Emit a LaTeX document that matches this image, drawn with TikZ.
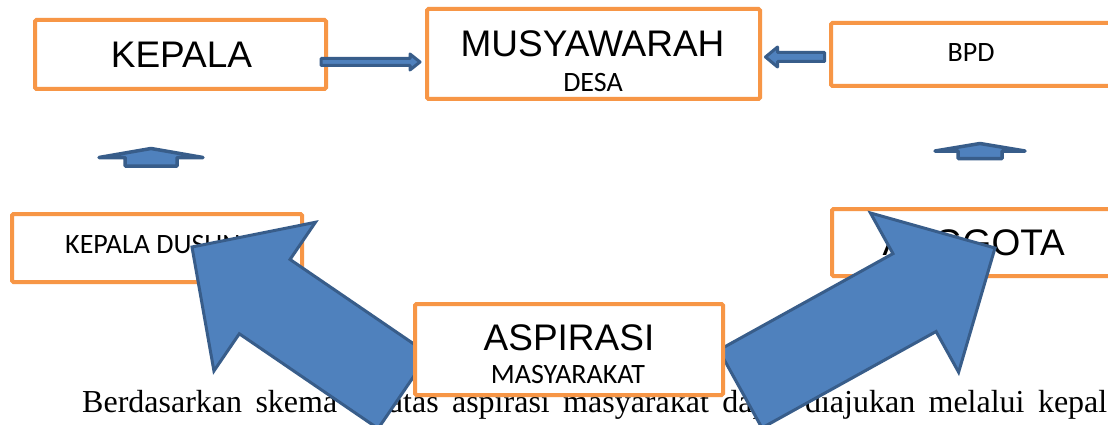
\documentclass[tikz,border=0pt]{standalone}
\usepackage{fontspec}
\setmainfont{Liberation Sans}
\newfontfamily\calfont{Carlito}
\newfontfamily\timesfont{Liberation Serif}
\usetikzlibrary{calc}
\definecolor{boxorange}{HTML}{F79646}
\definecolor{arrowfill}{HTML}{4F81BD}
\definecolor{arrowdraw}{HTML}{385D8A}
\tikzset{
  boxnode/.style={draw=boxorange, line width=4pt, fill=white, rounded corners=1.5pt, inner sep=0pt, rectangle},
  bigtxt/.style={font=\fontsize{37}{40}\selectfont, inner sep=0pt, anchor=base},
  smalltxt/.style={font=\calfont\fontsize{28}{32}\selectfont, inner sep=0pt, anchor=base},
  bodytxt/.style={font=\timesfont\fontsize{32}{36}\selectfont, inner sep=0pt, anchor=base west},
  smallarrow/.style={draw=arrowdraw, fill=arrowfill, line width=3pt, line join=round},
  uparrow/.style={draw=arrowdraw, fill=arrowfill, line width=3.5pt, line join=round},
  bigarrow/.style={draw=arrowdraw, fill=arrowfill, line width=3pt, line join=miter},
}
% #1 style, #2 tail, #3 tip, #4 shaft half width, #5 head half width, #6 head length
\newcommand{\blockarr}[6]{%
  \coordinate (tmpH) at ($(#3)!#6!(#2)$);
  \draw[#1] ($(#2)!#4!90:(#3)$) -- ($(tmpH)!#4!-90:(#2)$) -- ($(tmpH)!#5!-90:(#2)$)
    -- (#3) -- ($(tmpH)!#5!90:(#2)$) -- ($(tmpH)!#4!90:(#2)$) -- ($(#2)!#4!-90:(#3)$) -- cycle;
}
\begin{document}
\begin{tikzpicture}[x=1pt,y=-1pt]
\useasboundingbox (0,0) rectangle (1108,425);
\clip (0,0) rectangle (1108,425);
\fill[white] (0,0) rectangle (1108,425);

% body text line
\node[bodytxt] (body) at (82,412) {\makebox[1025pt][s]{Berdasarkan skema di atas aspirasi masyarakat dapat diajukan melalui kepal}};

% boxes
\node[boxnode, minimum width=291pt, minimum height=69pt] (kepala) at (180.5,54.5) {};
\node[bigtxt] (kepalaT) at (181.5,68) {KEPALA};

\node[boxnode, minimum width=333pt, minimum height=90pt] (musy) at (593.5,54) {};
\node[bigtxt] (musyT) at (592.5,57) {MUSYAWARAH};
\node[smalltxt] (desaT) at (593,92) {DESA};

\node[boxnode, minimum width=280pt, minimum height=63pt] (bpd) at (971,54.5) {};
\node[smalltxt] (bpdT) at (971,62) {BPD};

\node[boxnode, minimum width=290pt, minimum height=68pt] (dusun) at (157,248) {};
\node[smalltxt, anchor=base west] (dusunT) at (65,253) {KEPALA DUSUN};

\node[boxnode, minimum width=281pt, minimum height=67pt] (anggota) at (972.5,242.5) {};
\node[bigtxt, anchor=base east] (anggotaT) at (1065,255) {ANGGOTA};

% small connectors
\coordinate (kmA) at ([xshift=-7pt,yshift=-7.5pt]kepala.east);
\coordinate (kmB) at ([xshift=-5pt,yshift=-8pt]musy.west);
\blockarr{smallarrow}{kmA}{kmB}{3.5pt}{8pt}{10pt}

\coordinate (bmA) at ([xshift=-4.5pt,yshift=-2.5pt]bpd.west);
\coordinate (bmB) at ([xshift=3.5pt,yshift=-3pt]musy.east);
\blockarr{smallarrow}{bmA}{bmB}{4.5pt}{10pt}{12pt}

% small up arrows
\coordinate (upLA) at (151,166);
\coordinate (upLB) at (151,148.5);
\blockarr{uparrow}{upLA}{upLB}{26pt}{52pt}{9pt}

\coordinate (upRA) at (980,158.5);
\coordinate (upRB) at (980,143.5);
\blockarr{uparrow}{upRA}{upRB}{22pt}{45pt}{7.5pt}

% big arrows
\coordinate (bigLA) at (403.5,391.4);
\coordinate (bigLB) at (192,247);
\blockarr{bigarrow}{bigLA}{bigLB}{45pt}{90pt}{88pt}

\coordinate (bigRA) at (740.4,389);
\coordinate (bigRB) at (995,248);
\blockarr{bigarrow}{bigRA}{bigRB}{44.5pt}{91pt}{92pt}

% aspirasi box on top
\node[boxnode, minimum width=308pt, minimum height=91pt] (aspirasi) at (569,349.5) {};
\node[bigtxt] (aspirasiT) at (569,350) {ASPIRASI};
\node[smalltxt] (masyT) at (568,383) {MASYARAKAT};
\end{tikzpicture}
\end{document}
